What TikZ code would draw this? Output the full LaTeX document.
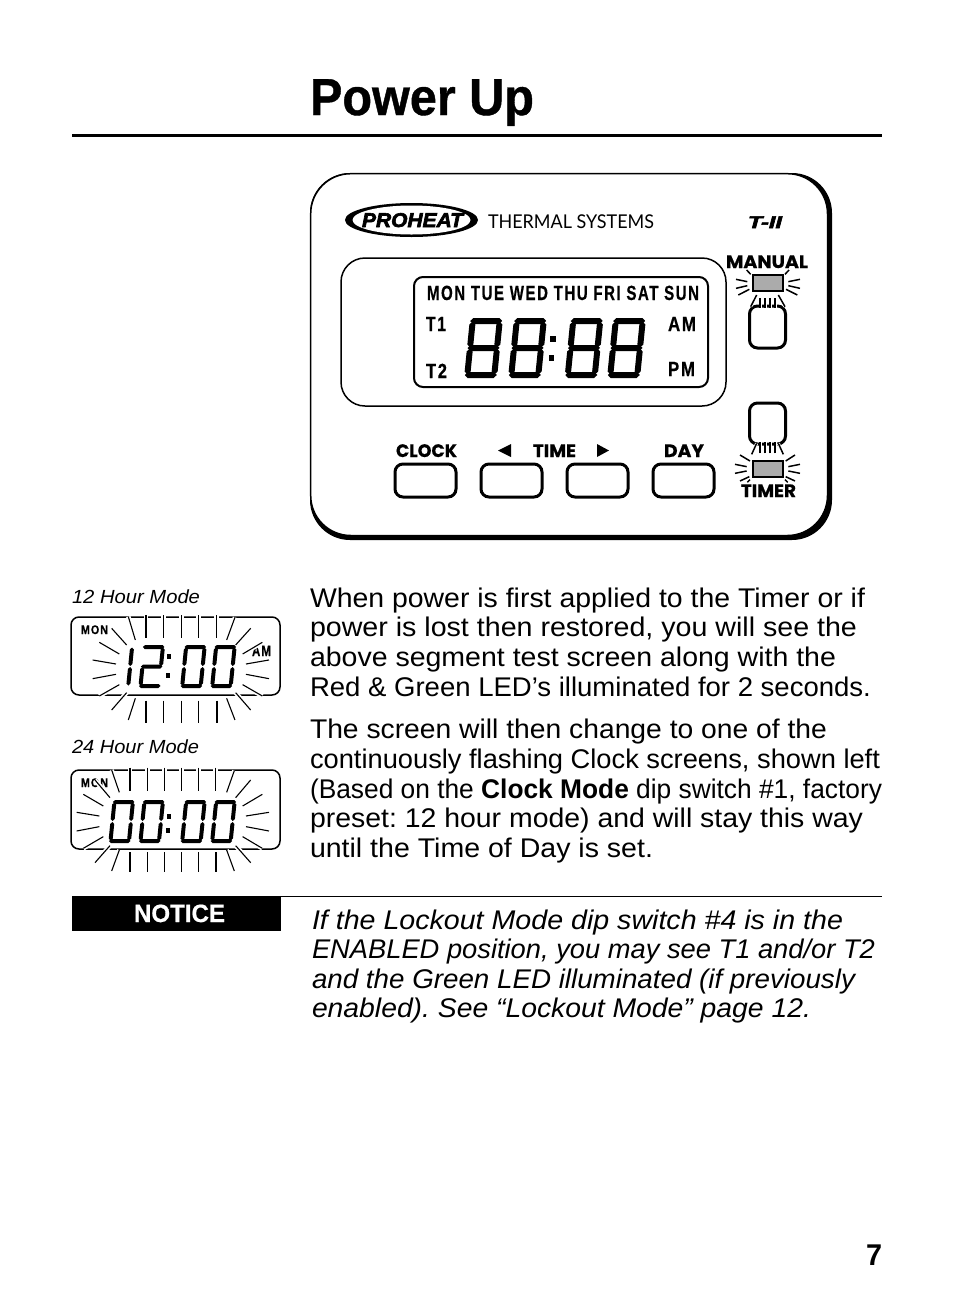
\documentclass[tikz,border=0pt]{standalone}
\usepackage{graphicx}
\usepackage{fontspec}
\setmainfont{Liberation Sans}
\newfontfamily\humfont{Lato}
\newfontfamily\geofont[BoldFont=Poppins Bold,BoldFeatures={FakeBold=0.6}]{Poppins}
\newfontfamily\heavyfont[FakeBold=3]{Liberation Sans Bold Italic}
\newfontfamily\condfont[FakeBold=0.5,LetterSpace=10]{Liberation Sans Bold}
\newfontfamily\titlefont[FakeBold=0.8]{Liberation Sans Bold}
\newfontfamily\noticefont[FakeBold=0.6]{Liberation Sans Bold}
\newsavebox\fitbox
\newcommand\fitx[2]{\sbox\fitbox{#2}\pgfmathsetmacro\fitr{#1/\wd\fitbox}\scalebox{\fitr}[1]{\usebox\fitbox}}
\newcommand\tl[5][]{\node[txt,#1] at (#2,#3) {\fitx{#4}{#5}};}
\newcommand\hseg[3]{\fill (#1,#3) -- ({#1+\Dt/2},{#3-\Dt/2}) -- ({#2-\Dt/2},{#3-\Dt/2}) -- (#2,#3) -- ({#2-\Dt/2},{#3+\Dt/2}) -- ({#1+\Dt/2},{#3+\Dt/2}) -- cycle;}
\newcommand\vseg[3]{\fill (#1,#2) -- ({#1-\Dt/2},{#2+\Dt/2}) -- ({#1-\Dt/2},{#3-\Dt/2}) -- (#1,#3) -- ({#1+\Dt/2},{#3-\Dt/2}) -- ({#1+\Dt/2},{#2+\Dt/2}) -- cycle;}
\def\sgap{0.5}
\newcommand\sega{\hseg{\sgap}{\Dw-\sgap}{-\Dh+\Dt/2}}
\newcommand\segg{\hseg{\sgap}{\Dw-\sgap}{-\Dh/2}}
\newcommand\segd{\hseg{\sgap}{\Dw-\sgap}{-\Dt/2}}
\newcommand\segf{\vseg{\Dt/2}{-\Dh+\Dt/2+\sgap}{-\Dh/2-\sgap}}
\newcommand\sege{\vseg{\Dt/2}{-\Dh/2+\sgap}{-\Dt/2-\sgap}}
\newcommand\segb{\vseg{\Dw-\Dt/2}{-\Dh+\Dt/2+\sgap}{-\Dh/2-\sgap}}
\newcommand\segc{\vseg{\Dw-\Dt/2}{-\Dh/2+\sgap}{-\Dt/2-\sgap}}
\newcommand\lcd[6]{\begin{scope}[shift={(#1,#2)},xslant=0.1]\def\Dw{#3}\def\Dh{#4}\def\Dt{#5}#6\end{scope}}
\def\eight{\sega\segb\segc\segd\sege\segf\segg}
\def\zero{\sega\segb\segc\segd\sege\segf}
\def\two{\sega\segb\segg\sege\segd}
\def\one{\segb\segc}
\tikzset{
 txt/.style={anchor=base west,inner sep=0pt,outer sep=0pt},
 body/.style={font=\fontsize{27}{27}\selectfont},
 ital/.style={font=\fontsize{27}{27}\selectfont\itshape},
 small/.style={font=\fontsize{19}{19}\selectfont\itshape},
 geo/.style={font=\geofont\bfseries\fontsize{18}{18}\selectfont},
 cond/.style={font=\condfont\fontsize{20.5}{20.5}\selectfont},
 btn/.style={draw=black,line width=3pt,rounded corners=8pt,fill=white},
 led/.style={draw=black,line width=2pt,fill=black!33},
 halo/.style={draw=white,line width=4.5pt},
 rayl/.style={draw=black,line width=1.1pt},
 rayled/.style={draw=black,line width=1.5pt},
 rayb/.style={draw=black,line width=2pt},
 lcdbox/.style={draw=black,line width=1.5pt,rounded corners=8pt},
}
\begin{document}
\frenchspacing
\begin{tikzpicture}[x=1pt,y=-1pt]
\useasboundingbox (0,0) rectangle (954,1312);
\fill[white] (0,0) rectangle (954,1312);
% heading
\tl[font=\titlefont\fontsize{52}{52}\selectfont]{310}{115}{224}{Power Up}
\draw[line width=3pt] (72,135) -- (882,135);
% device
\fill[black,rounded corners=40pt] (310,173) rectangle (832,540);
\draw[fill=white,draw=black,line width=1.5pt,rounded corners=40pt] (310.7,173.7) rectangle (827.5,535.5);
% logo
\fill[black] (411.5,220) ellipse [x radius=66.5,y radius=17];
\fill[white] (411.5,220) ellipse [x radius=59,y radius=14.5];
\tl[font=\heavyfont\fontsize{20}{20}\selectfont]{362}{227}{101}{PROHEAT}
\tl[font=\humfont\fontsize{19}{19}\selectfont]{488}{228}{166}{THERMAL SYSTEMS}
\tl[font=\heavyfont\fontsize{17}{17}\selectfont]{748}{228}{34}{T-II}
% main LCD
\draw[line width=1.5pt,rounded corners=24pt] (341,258) rectangle (726,406);
\draw[line width=2pt,rounded corners=9pt] (414,277) rectangle (708,387);
\tl[cond]{427}{300}{272}{MON TUE WED THU FRI SAT SUN}
\tl[cond]{426}{331}{20}{T1}
\tl[cond]{426}{378}{21}{T2}
\tl[cond]{668}{331}{28}{AM}
\tl[cond]{668}{376}{27}{PM}
\lcd{464}{378}{33}{60}{6}{\eight}
\lcd{508}{378}{33}{60}{6}{\eight}
\lcd{564.5}{378}{33}{60}{6}{\eight}
\lcd{607}{378}{33}{60}{6}{\eight}
\fill (550,336) rectangle (555.5,342);
\fill (548.5,355) rectangle (554,361);
% buttons
\draw[btn] (395,464) rectangle (456,497);
\draw[btn] (481,464) rectangle (542,497);
\draw[btn] (567,464) rectangle (628,497);
\draw[btn] (653,464) rectangle (714,497);
\tl[geo]{396}{457}{61}{CLOCK}
\tl[geo]{533}{457}{43}{TIME}
\tl[geo]{664}{457}{40}{DAY}
\fill (498,450.5) -- (511,444) -- (511,457) -- cycle;
\fill (609,450.5) -- (597,444) -- (597,457) -- cycle;
\draw[btn] (749.5,306) rectangle (785.5,348);
\draw[btn] (749.5,403) rectangle (785.5,444);
\tl[geo]{726}{268}{82}{MANUAL}
\tl[geo]{741}{497}{55}{TIMER}
\draw[led] (752.5,275) rectangle (783,291);
\draw[led] (752.5,461) rectangle (783,477);
\begin{scope}[shift={(720,245)},x=0.3333pt,y=-0.3333pt]
\foreach \a/\b/\c/\d in {92/185/110/150,120/188/120/160,135/188/135/160,150/188/150/160,165/188/165/160,195/185/175/150}
  {\draw[halo,line width=3pt] (\a,\b) -- (\c,\d);}
\foreach \a/\b/\c/\d in {80/75/92/88,48/103/82/110,48/130/82/122,55/150/88/133,92/185/110/150,120/188/120/160,135/188/135/160,150/188/150/160,165/188/165/160,195/185/175/150,232/150/198/133,240/130/205/122,240/103/205/110,207/75/195/88}
  {\draw[rayled] (\a,\b) -- (\c,\d);}
\end{scope}
\begin{scope}[shift={(720,395)},x=0.3333pt,y=-0.3333pt]
\foreach \a/\b/\c/\d in {95/178/110/145,120/175/120/142,135/175/135/142,150/175/150/142,165/175/165/142,190/178/175/145}
  {\draw[halo,line width=3pt] (\a,\b) -- (\c,\d);}
\foreach \a/\b/\c/\d in {95/178/110/145,120/175/120/142,135/175/135/142,150/175/150/142,165/175/165/142,190/178/175/145,60/180/90/198,45/208/80/215,45/235/80/228,60/258/88/245,82/262/90/254,225/180/197/198,240/208/205/215,240/235/205/228,225/258/197/245,203/262/195/254}
  {\draw[rayled] (\a,\b) -- (\c,\d);}
\end{scope}
% paragraph text
\tl[body]{310}{607}{555}{When power is first applied to the Timer or if}
\tl[body]{310}{636}{547}{power is lost then restored, you will see the}
\tl[body]{310}{666}{526}{above segment test screen along with the}
\tl[body]{310}{696}{561}{Red \& Green LED’s illuminated for 2 seconds.}
\tl[body]{310}{738}{517}{The screen will then change to one of the}
\tl[body]{310}{768}{570}{continuously flashing Clock screens, shown left}
\tl[body]{310}{798}{572}{(Based on the \textbf{Clock Mode} dip switch \#1, factory}
\tl[body]{310}{827}{553}{preset: 12 hour mode) and will stay this way}
\tl[body]{310}{857}{343}{until the Time of Day is set.}
% notice
\draw[line width=1pt] (72,896.5) -- (882,896.5);
\fill (72,897) rectangle (281,931);
\tl[text=white,font=\noticefont\fontsize{25}{25}\selectfont]{134}{922}{91}{NOTICE}
\tl[ital]{312}{929}{531}{If the Lockout Mode dip switch \#4 is in the}
\tl[ital]{312}{958}{563}{ENABLED position, you may see T1 and/or T2}
\tl[ital]{312}{988}{543}{and the Green LED illuminated (if previously}
\tl[ital]{312}{1017}{499}{enabled). See “Lockout Mode” page 12.}
\tl[font=\bfseries\fontsize{30}{30}\selectfont]{866}{1265}{16}{7}
% 12 hour
\tl[small]{72}{603}{128}{12 Hour Mode}
\draw[lcdbox] (71,617) rectangle (280,695);
\tl[font=\condfont\fontsize{12.5}{12.5}\selectfont]{81}{634}{27}{MON}
\tl[font=\condfont\fontsize{15}{15}\selectfont]{252}{656}{19}{AM}
\lcd{126}{688}{4}{43}{4}{\one}
\lcd{138.3}{688}{22.5}{43}{4}{\two}
\lcd{180}{688}{22.5}{43}{4}{\zero}
\lcd{210}{688}{22.5}{43}{4}{\zero}
\fill (166.5,654) rectangle (171,658.5);
\fill (165.5,673) rectangle (170,677.5);
\begin{scope}[shift={(60,580)},x=0.3333pt,y=-0.3333pt]
\foreach \a/\b/\c/\d in {205/110/226/180,258/105/258/175,311/105/311/175,364/105/364/175,416/105/416/175,470/105/470/175,525/112/500/180,572/145/527/195,607/187/548/222,627/240/558/252,627/296/558/283,607/348/548/314,572/390/527/338,525/420/500/355,470/362/470/428,416/362/416/428,364/362/364/428,311/362/311/428,258/362/258/428,205/420/226/355,155/390/200/338,118/348/178/314,98/296/168/283,98/240/168/252,118/187/178/222,155/145/200/195}
  {\draw[halo] (\a,\b) -- (\c,\d);}
\foreach \a/\b/\c/\d in {205/110/226/180,311/105/311/175,364/105/364/175,416/105/416/175,470/105/470/175,525/112/500/180,572/145/527/195,607/187/548/222,627/240/558/252,627/296/558/283,607/348/548/314,572/390/527/338,525/420/500/355,416/362/416/428,364/362/364/428,311/362/311/428,205/420/226/355,155/390/200/338,118/348/178/314,98/296/168/283,98/240/168/252,118/187/178/222,155/145/200/195}
  {\draw[rayl] (\a,\b) -- (\c,\d);}
\foreach \a/\b/\c/\d in {258/105/258/175,470/362/470/428,258/362/258/428}
  {\draw[rayb] (\a,\b) -- (\c,\d);}
\end{scope}
% 24 hour
\tl[small]{72}{753}{127}{24 Hour Mode}
\draw[lcdbox] (71,770) rectangle (280,849);
\tl[font=\condfont\fontsize{12.5}{12.5}\selectfont]{81}{787}{27}{MON}
\lcd{108.3}{843}{22.5}{43}{4}{\zero}
\lcd{138.3}{843}{22.5}{43}{4}{\zero}
\lcd{180}{843}{22.5}{43}{4}{\zero}
\lcd{210}{843}{22.5}{43}{4}{\zero}
\fill (166.5,814) rectangle (171,818.5);
\fill (165.5,828) rectangle (170,832.5);
\begin{scope}[shift={(60,735)},x=0.3333pt,y=-0.3333pt]
\foreach \a/\b/\c/\d in {155/105/178/172,210/98/210/167,262/98/262/167,313/98/313/167,364/98/364/167,415/98/415/167,467/98/467/167,523/107/500/172,572/135/527/188,607/178/548/213,627/232/558/243,627/288/558/275,607/340/548/305,572/383/527/332,523/408/500/345,467/352/467/410,415/352/415/410,364/352/364/410,313/352/313/410,262/352/262/410,210/352/210/410,155/408/178/345,105/383/150/332,70/340/130/305,50/288/118/275,50/232/118/243,70/178/130/213,105/135/150/188}
  {\draw[halo] (\a,\b) -- (\c,\d);}
\foreach \a/\b/\c/\d in {155/105/178/172,262/98/262/167,313/98/313/167,364/98/364/167,415/98/415/167,467/98/467/167,523/107/500/172,572/135/527/188,607/178/548/213,627/232/558/243,627/288/558/275,607/340/548/305,572/383/527/332,523/408/500/345,415/352/415/410,364/352/364/410,313/352/313/410,262/352/262/410,155/408/178/345,105/383/150/332,70/340/130/305,50/288/118/275,50/232/118/243,70/178/130/213,105/135/150/188}
  {\draw[rayl] (\a,\b) -- (\c,\d);}
\foreach \a/\b/\c/\d in {210/98/210/167,467/352/467/410,210/352/210/410}
  {\draw[rayb] (\a,\b) -- (\c,\d);}
\end{scope}
\end{tikzpicture}
\end{document}
